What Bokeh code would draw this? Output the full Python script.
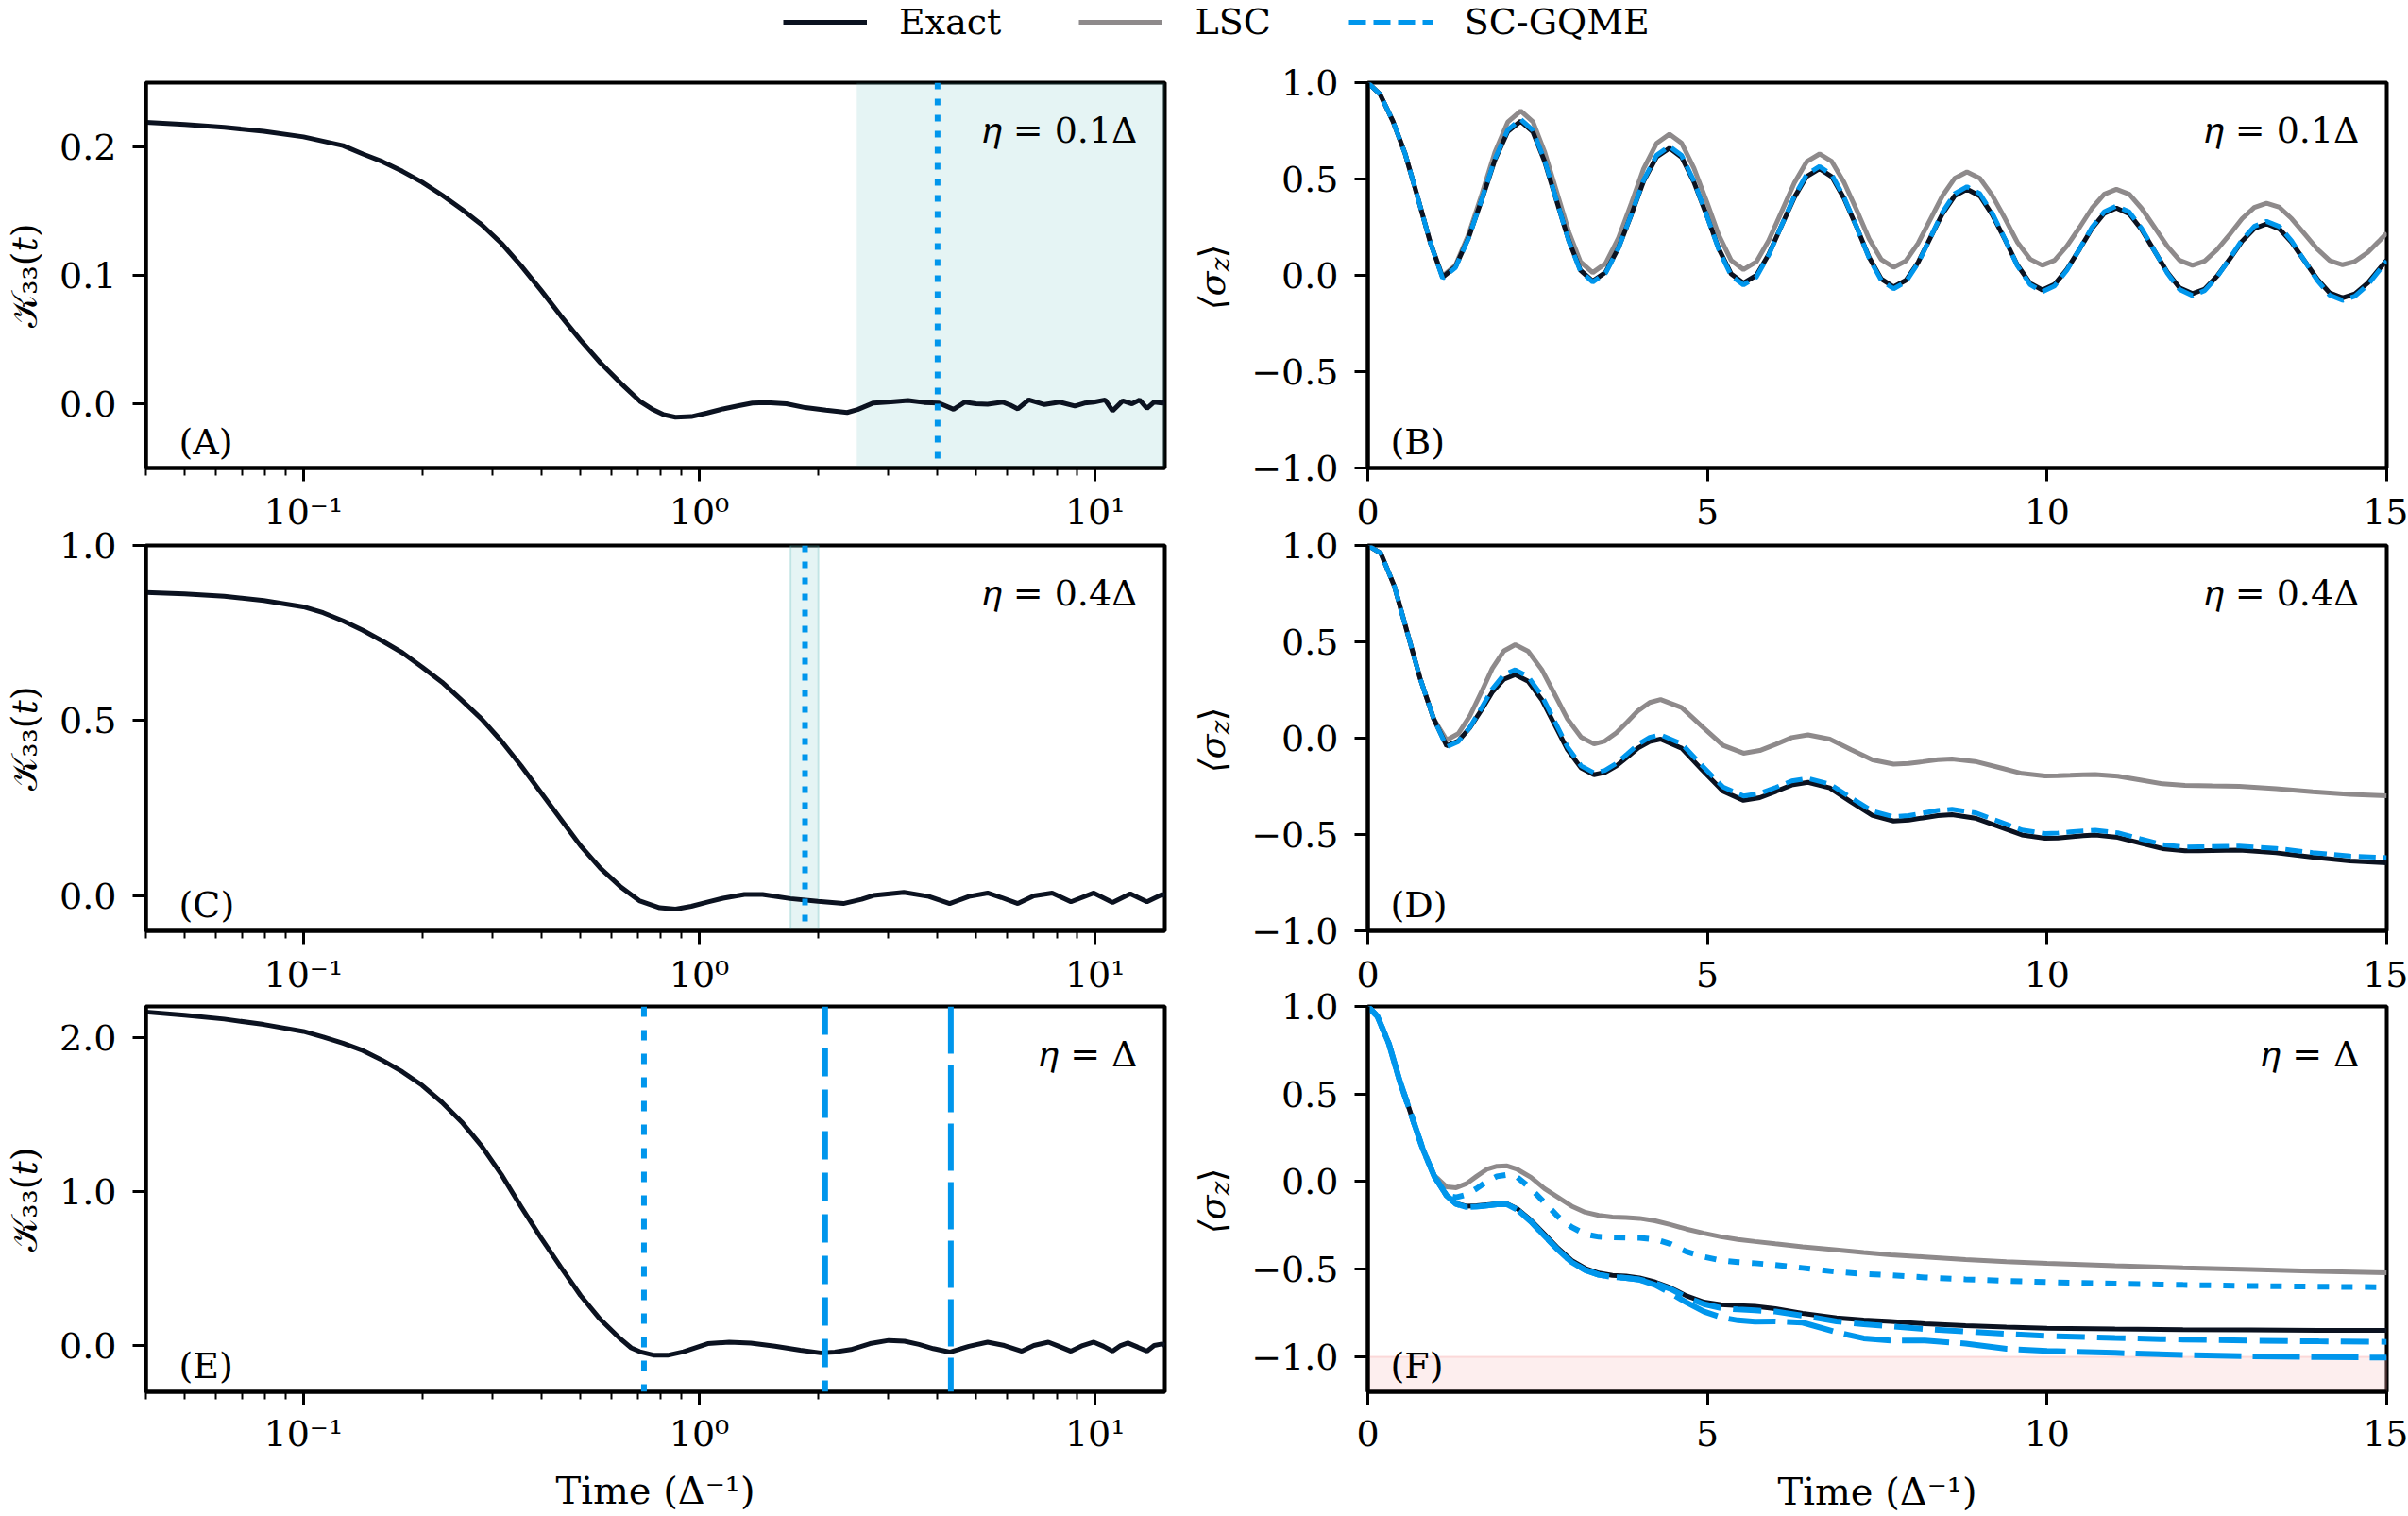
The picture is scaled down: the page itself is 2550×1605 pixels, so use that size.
from math import pi
from bokeh.plotting import figure
from bokeh.models import Range1d, FixedTicker, Span, BoxAnnotation, Label, Legend, LegendItem
from bokeh.core.properties import value
from bokeh.layouts import column, row
from bokeh.embed import file_html
from bokeh.resources import INLINE

FONT = "DejaVu Serif"
C_EXACT = "#0b1220"
C_LSC = "#8e8a8b"
C_BLUE = "#0096ec"

# ---------------- data ----------------
# Panel A: memory kernel, eta = 0.1 Delta (log time axis)
A_T = [0.04, 0.0501, 0.0631, 0.0794, 0.1, 0.1259, 0.1413, 0.1585, 0.1778, 0.1995,
       0.2239, 0.2512, 0.2818, 0.3162, 0.3548, 0.3981, 0.4467, 0.5012, 0.5623, 0.631,
       0.7079, 0.7586, 0.8128, 0.871, 0.955, 1.0471, 1.1482, 1.2589, 1.3614, 1.4791,
       1.6596, 1.8535, 2.0893, 2.3633, 2.5119, 2.7542,
       3.05, 3.37, 3.7, 4.03, 4.39, 4.69, 5.0, 5.35, 5.84, 6.1,
       6.38, 6.8, 7.45, 8.14, 8.89, 9.4, 9.93, 10.6, 11.07, 11.74,
       12.39, 12.95, 13.52, 14.1, 14.77, 15.0]
A_K = [0.2192, 0.2175, 0.2152, 0.2122, 0.2078, 0.2010, 0.1945, 0.1885, 0.181, 0.1725,
       0.1625, 0.1515, 0.1395, 0.125, 0.1075, 0.0885, 0.0685, 0.0495, 0.032, 0.0165,
       0.002, -0.004, -0.0085, -0.0105, -0.0100, -0.0072, -0.004, -0.0015, 0.0005, 0.001,
       0.0, -0.003, -0.005, -0.0068, -0.0045, 0.0006,
       0.0015, 0.0026, 0.001, 0.0006, -0.0043, 0.0013, 0.0, -0.0003, 0.0013, -0.001,
       -0.004, 0.0031, -0.0006, 0.0013, -0.0018, 0.0005, 0.0013, 0.003, -0.0055, 0.0023,
       0.0, 0.003, -0.0036, 0.0013, 0.0006, 0.001]
A_SHADE = (2.5, 15.0)
A_CUT = 4.0

# Panel C: memory kernel, eta = 0.4 Delta
C_T = [0.04, 0.0501, 0.0631, 0.0794, 0.1, 0.1122, 0.1259, 0.1413, 0.1585, 0.1778,
       0.1995, 0.2239, 0.2512, 0.2818, 0.3162, 0.3548, 0.3981, 0.4467, 0.5012, 0.5623,
       0.631, 0.7079, 0.7943, 0.871, 0.955, 1.0471, 1.1482, 1.3002, 1.4454, 1.6982,
       1.9953, 2.3121, 2.5704, 2.7542, 3.2885, 3.8019, 4.2907,
       4.8, 5.35, 5.8, 6.38, 7.0, 7.79, 8.69, 9.92, 11.07, 12.27, 13.52, 14.77, 15.0]
C_K = [0.866, 0.862, 0.855, 0.843, 0.825, 0.808, 0.785, 0.758, 0.727, 0.694,
       0.653, 0.61, 0.558, 0.505, 0.442, 0.371, 0.295, 0.219, 0.143, 0.079,
       0.027, -0.015, -0.034, -0.038, -0.03, -0.018, -0.007, 0.004, 0.004, -0.008,
       -0.016, -0.022, -0.01, 0.001, 0.010, -0.002, -0.022,
       -0.002, 0.008, -0.005, -0.022, 0.0, 0.008, -0.017, 0.008, -0.019, 0.006, -0.017, 0.004, 0.0]
C_SHADE = (1.7, 2.0)
C_CUT = 1.85

# Panel E: memory kernel, eta = Delta
E_T = [0.04, 0.0501, 0.0631, 0.0794, 0.1, 0.1122, 0.1259, 0.1413, 0.1585, 0.1778,
       0.1995, 0.2239, 0.2512, 0.2818, 0.3162, 0.3548, 0.3981, 0.4467, 0.5012, 0.5623,
       0.631, 0.673, 0.7079, 0.766, 0.8318, 0.912,
       1.05, 1.19, 1.35, 1.553, 1.8, 2.026, 2.2, 2.416, 2.7, 3.01,
       3.3, 3.59, 3.9, 4.29, 4.8, 5.35, 5.9, 6.53, 7.0, 7.62,
       8.1, 8.69, 9.3, 9.92, 10.5, 11.07, 11.6, 12.1, 12.8, 13.52,
       14.1, 14.77, 15.0]
E_K = [2.164, 2.143, 2.118, 2.083, 2.038, 2.002, 1.962, 1.914, 1.85, 1.776,
       1.688, 1.578, 1.45, 1.295, 1.11, 0.90, 0.70, 0.51, 0.325, 0.17,
       0.045, -0.015, -0.04, -0.062, -0.063, -0.04,
       0.012, 0.022, 0.016, -0.004, -0.03, -0.048, -0.042, -0.026, 0.012, 0.033,
       0.028, 0.007, -0.02, -0.043, -0.005, 0.022, 0.0, -0.037, 0.0, 0.022,
       -0.005, -0.037, 0.0, 0.022, -0.005, -0.037, 0.0, 0.016, -0.01, -0.037,
       0.0, 0.01, 0.0]
E_CUTS = [0.725, 2.08, 4.32]

# Panel B: <sigma_z>, eta = 0.1 Delta
B_T = [0, 0.18, 0.37, 0.55, 0.73, 0.92,
       1.10, 1.29, 1.48, 1.68, 1.87, 2.06,
       2.25, 2.43, 2.60, 2.78, 2.96, 3.13,
       3.31, 3.50, 3.69, 3.88, 4.06, 4.25,
       4.44, 4.62, 4.80, 4.99, 5.17, 5.35,
       5.53, 5.72, 5.90, 6.09, 6.28, 6.46,
       6.65, 6.83, 7.01, 7.20, 7.38, 7.56,
       7.74, 7.92, 8.10, 8.28, 8.46, 8.64,
       8.82, 9.01, 9.19, 9.38, 9.56, 9.75,
       9.93, 10.11, 10.29, 10.48, 10.66, 10.84,
       11.02, 11.21, 11.39, 11.58, 11.77, 11.95,
       12.14, 12.32, 12.50, 12.69, 12.87, 13.05,
       13.23, 13.42, 13.60, 13.79, 13.98, 14.16,
       14.35, 14.53, 14.72, 14.90, 15.0]
B_EXACT = [1.0, 0.94, 0.80, 0.63, 0.41, 0.17,
           -0.01, 0.044, 0.193, 0.395, 0.598, 0.746,
           0.80, 0.744, 0.593, 0.385, 0.178, 0.026,
           -0.03, 0.016, 0.143, 0.315, 0.488, 0.614,
           0.66, 0.613, 0.485, 0.31, 0.135, 0.007,
           -0.04, 0.0, 0.108, 0.257, 0.405, 0.513,
           0.553, 0.512, 0.40, 0.247, 0.093, -0.019,
           -0.06, -0.026, 0.067, 0.194, 0.320, 0.413,
           0.447, 0.412, 0.316, 0.186, 0.055, -0.041,
           -0.076, -0.047, 0.030, 0.137, 0.243, 0.321,
           0.349, 0.319, 0.238, 0.127, 0.016, -0.065,
           -0.095, -0.071, -0.005, 0.086, 0.177, 0.243,
           0.267, 0.241, 0.171, 0.075, -0.021, -0.091,
           -0.117, -0.096, -0.040, 0.037, 0.079]
B_LSC = [1.0, 0.94, 0.80, 0.63, 0.41, 0.17,
         -0.005, 0.052, 0.210, 0.424, 0.639, 0.796,
         0.853, 0.797, 0.643, 0.434, 0.224, 0.070,
         0.014, 0.062, 0.194, 0.374, 0.553, 0.685,
         0.733, 0.686, 0.557, 0.382, 0.206, 0.077,
         0.03, 0.070, 0.18, 0.33, 0.48, 0.59,
         0.63, 0.591, 0.483, 0.336, 0.189, 0.081,
         0.042, 0.075, 0.166, 0.290, 0.413, 0.504,
         0.537, 0.504, 0.416, 0.295, 0.173, 0.084,
         0.052, 0.078, 0.151, 0.250, 0.348, 0.421,
         0.447, 0.421, 0.348, 0.250, 0.151, 0.078,
         0.052, 0.074, 0.133, 0.213, 0.294, 0.352,
         0.374, 0.353, 0.294, 0.215, 0.135, 0.077,
         0.055, 0.072, 0.119, 0.183, 0.22]
B_SC = [1.0, 0.94, 0.80, 0.63, 0.41, 0.17,
        -0.015, 0.040, 0.191, 0.398, 0.604, 0.755,
        0.81, 0.753, 0.599, 0.388, 0.176, 0.022,
        -0.035, 0.012, 0.141, 0.318, 0.494, 0.623,
        0.67, 0.622, 0.49, 0.31, 0.13, -0.002,
        -0.05, -0.009, 0.104, 0.258, 0.411, 0.524,
        0.565, 0.522, 0.406, 0.248, 0.089, -0.027,
        -0.07, -0.034, 0.063, 0.195, 0.328, 0.424,
        0.46, 0.424, 0.324, 0.188, 0.051, -0.048,
        -0.085, -0.055, 0.026, 0.138, 0.249, 0.33,
        0.36, 0.329, 0.244, 0.128, 0.011, -0.074,
        -0.105, -0.079, -0.009, 0.088, 0.184, 0.254,
        0.28, 0.253, 0.178, 0.075, -0.028, -0.103,
        -0.13, -0.109, -0.05, 0.03, 0.074]

# Panel D: <sigma_z>, eta = 0.4 Delta
D_T = [0, 0.19, 0.39, 0.58, 0.77, 0.97,
       1.16, 1.33, 1.50, 1.67, 1.83, 2.00,
       2.17, 2.36, 2.56, 2.75, 2.94, 3.14,
       3.33, 3.49, 3.66, 3.82, 3.98, 4.15,
       4.31, 4.62, 4.92, 5.23,
       5.53, 5.77, 6.01, 6.24,
       6.48, 6.80, 7.11, 7.43,
       7.74, 7.96, 8.17, 8.39,
       8.60, 8.94, 9.29, 9.63,
       9.97, 10.16, 10.34, 10.53,
       10.71, 11.04, 11.37, 11.70,
       12.03, 12.23, 12.43, 12.63,
       12.83, 13.37, 13.91, 14.46, 15.0]
D_EXACT = [1.0, 0.96, 0.79, 0.55, 0.31, 0.10,
           -0.04, -0.015, 0.053, 0.145, 0.238, 0.305,
           0.33, 0.295, 0.20, 0.07, -0.06, -0.155,
           -0.19, -0.178, -0.144, -0.098, -0.051, -0.017,
           -0.005, -0.052, -0.164, -0.276,
           -0.323, -0.309, -0.276, -0.243,
           -0.229, -0.258, -0.330, -0.401,
           -0.43, -0.425, -0.414, -0.402,
           -0.397, -0.415, -0.459, -0.502,
           -0.52, -0.518, -0.512, -0.506,
           -0.503, -0.515, -0.544, -0.573,
           -0.585, -0.584, -0.583, -0.582,
           -0.581, -0.595, -0.618, -0.637, -0.647]
D_LSC = [1.0, 0.96, 0.79, 0.55, 0.31, 0.10,
         -0.01, 0.023, 0.114, 0.238, 0.361, 0.452,
         0.485, 0.451, 0.356, 0.228, 0.099, 0.005,
         -0.03, -0.015, 0.028, 0.085, 0.143, 0.185,
         0.20, 0.159, 0.061, -0.037,
         -0.078, -0.064, -0.031, 0.003,
         0.017, -0.005, -0.059, -0.113,
         -0.135, -0.131, -0.122, -0.112,
         -0.108, -0.121, -0.152, -0.183,
         -0.196, -0.195, -0.193, -0.190,
         -0.189, -0.197, -0.217, -0.237,
         -0.245, -0.246, -0.248, -0.249,
         -0.25, -0.262, -0.278, -0.292, -0.299]
D_SC = [1.0, 0.96, 0.79, 0.55, 0.31, 0.10,
        -0.045, -0.018, 0.055, 0.155, 0.255, 0.328,
        0.355, 0.319, 0.221, 0.088, -0.046, -0.144,
        -0.18, -0.167, -0.131, -0.082, -0.032, 0.004,
        0.017, -0.029, -0.142, -0.254,
        -0.30, -0.287, -0.255, -0.222,
        -0.209, -0.238, -0.309, -0.379,
        -0.408, -0.402, -0.389, -0.375,
        -0.369, -0.387, -0.432, -0.477,
        -0.495, -0.493, -0.487, -0.481,
        -0.478, -0.491, -0.522, -0.552,
        -0.565, -0.564, -0.563, -0.561,
        -0.56, -0.572, -0.594, -0.612, -0.62]

# Panel F: <sigma_z>, eta = Delta (three SC-GQME memory cut-offs)
F_T = [0, 0.14, 0.31, 0.47, 0.64, 0.81, 0.98, 1.16, 1.3, 1.45,
       1.6, 1.75, 1.9, 2.05, 2.2, 2.4, 2.6, 2.8, 3.0, 3.2,
       3.4, 3.6, 3.8, 4.0, 4.23, 4.45, 4.69, 4.95, 5.2, 5.45,
       5.7, 6.0, 6.4, 6.9, 7.3, 7.7, 8.2, 8.8, 9.4, 10.0,
       11.0, 12.0, 13.0, 14.0, 15.0]
F_EXACT = [1.0, 0.944, 0.788, 0.574, 0.38, 0.185, 0.029, -0.08, -0.125, -0.14,
           -0.138, -0.132, -0.127, -0.127, -0.155, -0.22, -0.30, -0.38, -0.45, -0.495,
           -0.522, -0.535, -0.54, -0.55, -0.573, -0.605, -0.652, -0.688, -0.702, -0.708,
           -0.712, -0.725, -0.752, -0.778, -0.79, -0.798, -0.812, -0.823, -0.831, -0.837,
           -0.842, -0.845, -0.847, -0.849, -0.85]
F_LSC = [1.0, 0.944, 0.788, 0.574, 0.38, 0.185, 0.035, -0.03, -0.035, -0.012,
         0.03, 0.07, 0.088, 0.09, 0.07, 0.025, -0.04, -0.09, -0.14, -0.175,
         -0.193, -0.202, -0.205, -0.21, -0.224, -0.245, -0.271, -0.295, -0.315, -0.33,
         -0.342, -0.355, -0.372, -0.39, -0.405, -0.418, -0.43, -0.445, -0.457, -0.467,
         -0.48, -0.492, -0.502, -0.512, -0.52]
F_SC_DOT = [1.0, 0.944, 0.788, 0.574, 0.38, 0.185, 0.029, -0.078, -0.09, -0.075,
            -0.04, 0.0, 0.03, 0.039, 0.025, -0.04, -0.12, -0.2, -0.26, -0.3,
            -0.315, -0.318, -0.32, -0.321, -0.33, -0.355, -0.40, -0.43, -0.45, -0.46,
            -0.466, -0.476, -0.493, -0.515, -0.527, -0.535, -0.547, -0.558, -0.567, -0.574,
            -0.583, -0.59, -0.596, -0.6, -0.603]
F_SC_DASH = [1.0, 0.944, 0.788, 0.574, 0.38, 0.185, 0.029, -0.08, -0.128, -0.145,
             -0.143, -0.137, -0.13, -0.13, -0.16, -0.228, -0.31, -0.39, -0.46, -0.505,
             -0.532, -0.545, -0.55, -0.56, -0.58, -0.612, -0.66, -0.70, -0.722, -0.73,
             -0.735, -0.742, -0.765, -0.798, -0.815, -0.827, -0.842, -0.856, -0.869, -0.881,
             -0.893, -0.902, -0.908, -0.912, -0.915]
F_SC_LDASH = [1.0, 0.944, 0.788, 0.574, 0.38, 0.185, 0.029, -0.08, -0.128, -0.145,
              -0.143, -0.137, -0.13, -0.13, -0.16, -0.228, -0.31, -0.39, -0.46, -0.505,
              -0.532, -0.545, -0.55, -0.56, -0.59, -0.635, -0.69, -0.742, -0.775, -0.792,
              -0.80, -0.798, -0.805, -0.86, -0.895, -0.908, -0.908, -0.925, -0.955, -0.967,
              -0.978, -0.99, -0.997, -1.002, -1.005]
F_BAND = (-1.2, -1.0)

LOG_MAJOR = [0.1, 1, 10]
LOG_MINOR = [0.04, 0.05, 0.06, 0.07, 0.08, 0.09, 0.2, 0.3, 0.4, 0.5, 0.6, 0.7, 0.8, 0.9,
             2, 3, 4, 5, 6, 7, 8, 9]
LOG_LABELS = {0.1: "10⁻¹", 1: "10⁰", 10: "10¹"}
LIN_X_TICKS = [0, 5, 10, 15]
SZ_TICKS = [-1.0, -0.5, 0.0, 0.5, 1.0]
SZ_LABELS = ["−1.0", "−0.5", "0.0", "0.5", "1.0"]
ETA_TEXT = ["𝜂 = 0.1Δ", "𝜂 = 0.4Δ", "𝜂 = Δ"]

# ---------------- layout constants ----------------
# rows overlap a little (negative top margin) so tick labels are never clipped
ROW_H = [525, 516, 570]
TOP_B = [37, 30, 30]
BOT_B = [80, 78, 132]
ROW_MARGIN = [0, -28, -28]
FRAME_W = 1079
FRAME_H = 408
LEFT_W, GAP_W, RIGHT_W = 1245, 75, 1230


def style(p, bottom_row, tick_standoff, label_standoff):
    p.grid.visible = False
    p.outline_line_color = "black"
    p.outline_line_width = 4
    p.background_fill_color = "white"
    p.border_fill_color = None
    for ax in list(p.xaxis) + list(p.yaxis):
        ax.axis_line_width = 4
        ax.axis_line_color = "black"
        ax.major_tick_in = 0
        ax.major_tick_out = 14
        ax.major_tick_line_width = 3
        ax.minor_tick_in = 0
        ax.minor_tick_out = 8
        ax.minor_tick_line_width = 2
        ax.major_label_text_font = FONT
        ax.major_label_text_font_size = "38px"
        ax.major_label_text_color = "black"
        ax.axis_label_text_font = FONT
        ax.axis_label_text_font_style = "normal"
        ax.axis_label_text_color = "black"
    p.xaxis.major_label_standoff = tick_standoff
    p.yaxis.major_label_standoff = 17
    p.yaxis.minor_tick_line_color = None
    if bottom_row:
        p.xaxis.axis_label = "Time (Δ⁻¹)"
        p.xaxis.axis_label_text_font_size = "40px"
        p.xaxis.axis_label_standoff = label_standoff


def add_texts(p, letter, eta, dx):
    p.add_layout(Label(x=dx, y=28, x_units="screen", y_units="screen", text=letter,
                       text_font=FONT, text_font_size="38px", text_color="black",
                       text_align="left", text_baseline="alphabetic"))
    p.add_layout(Label(x=FRAME_W - 29, y=FRAME_H - 50, x_units="screen", y_units="screen",
                       text=eta, text_font=FONT, text_font_size="38px", text_color="black",
                       text_align="right", text_baseline="alphabetic"))


def left_panel(r, t, k, ylim, yticks, ylabels, letter):
    bottom = r == 2
    p = figure(width=LEFT_W, height=ROW_H[r], x_axis_type="log",
               x_range=Range1d(0.04, 15), y_range=Range1d(*ylim),
               output_backend="svg", toolbar_location=None,
               min_border_left=154, min_border_right=LEFT_W - 154 - FRAME_W,
               min_border_top=TOP_B[r], min_border_bottom=BOT_B[r])
    style(p, bottom, 8 if bottom else 10, 12)
    p.xaxis.ticker = FixedTicker(ticks=LOG_MAJOR, minor_ticks=LOG_MINOR)
    p.xaxis.major_label_overrides = LOG_LABELS
    p.yaxis.ticker = FixedTicker(ticks=yticks)
    p.yaxis.major_label_overrides = dict(zip(yticks, ylabels))
    p.yaxis.axis_label = "𝒦₃₃(𝑡)"
    p.yaxis.axis_label_text_font_size = "38px"
    p.yaxis.axis_label_standoff = 12
    p.line(t, k, line_color=C_EXACT, line_width=5)
    add_texts(p, letter, ETA_TEXT[r], 35)
    return p


def ylabel_strip(r):
    # narrow strip between the columns holding the rotated <sigma_z> label
    s = figure(width=GAP_W, height=ROW_H[r], x_range=Range1d(0, GAP_W),
               y_range=Range1d(0, FRAME_H), x_axis_location=None, y_axis_location=None,
               output_backend="svg", toolbar_location=None,
               min_border_left=0, min_border_right=0,
               min_border_top=TOP_B[r], min_border_bottom=BOT_B[r])
    s.grid.visible = False
    s.outline_line_color = None
    s.border_fill_color = None
    s.background_fill_color = None
    xc = 38
    a = FRAME_H / 2 + 4
    s.text(x=[xc], y=[a], text=["⟨σ"], angle=pi / 2, text_align="right",
           text_baseline="middle", text_font=value(FONT), text_font_size="38px",
           text_font_style="italic", text_color="black")
    s.text(x=[xc + 9], y=[a], text=["z"], angle=pi / 2, text_align="left",
           text_baseline="middle", text_font=value(FONT), text_font_size="28px",
           text_font_style="italic", text_color="black")
    s.text(x=[xc], y=[a + 14], text=["⟩"], angle=pi / 2, text_align="left",
           text_baseline="middle", text_font=value(FONT), text_font_size="38px",
           text_color="black")
    return s


def right_panel(r, ylim, letter):
    bottom = r == 2
    p = figure(width=RIGHT_W, height=ROW_H[r],
               x_range=Range1d(0, 15), y_range=Range1d(*ylim),
               output_backend="svg", toolbar_location=None,
               min_border_left=RIGHT_W - FRAME_W - 23, min_border_right=23,
               min_border_top=TOP_B[r], min_border_bottom=BOT_B[r])
    style(p, bottom, 16 if bottom else 18, 22)
    p.xaxis.ticker = FixedTicker(ticks=LIN_X_TICKS)
    p.xaxis.minor_tick_line_color = None
    p.yaxis.ticker = FixedTicker(ticks=SZ_TICKS)
    p.yaxis.major_label_overrides = dict(zip(SZ_TICKS, SZ_LABELS))
    add_texts(p, letter, ETA_TEXT[r], 24)
    return p


TEAL_FILL = "#5fb8b8"

# ----- A -----
pA = left_panel(0, A_T, A_K, (-0.05, 0.25), [0.0, 0.1, 0.2], ["0.0", "0.1", "0.2"], "(A)")
pA.add_layout(BoxAnnotation(left=A_SHADE[0], right=A_SHADE[1], fill_color=TEAL_FILL,
                            fill_alpha=0.16, line_color=None, level="underlay"))
pA.add_layout(Span(location=A_CUT, dimension="height", line_color=C_BLUE, line_width=6,
                   line_dash="7 10"))

# ----- C -----
pC = left_panel(1, C_T, C_K, (-0.1, 1.0), [0.0, 0.5, 1.0], ["0.0", "0.5", "1.0"], "(C)")
pC.add_layout(BoxAnnotation(left=C_SHADE[0], right=C_SHADE[1], fill_color=TEAL_FILL,
                            fill_alpha=0.16, line_color=TEAL_FILL, line_alpha=0.3,
                            line_width=2, level="underlay"))
pC.add_layout(Span(location=C_CUT, dimension="height", line_color=C_BLUE, line_width=6,
                   line_dash="7 10"))

# ----- E -----
pE = left_panel(2, E_T, E_K, (-0.3, 2.2), [0.0, 1.0, 2.0], ["0.0", "1.0", "2.0"], "(E)")
for loc, dash in zip(E_CUTS, ["11 14", "30 14", "50 12"]):
    pE.add_layout(Span(location=loc, dimension="height", line_color=C_BLUE, line_width=6,
                       line_dash=dash))

# ----- B -----
pB = right_panel(0, (-1.0, 1.0), "(B)")
pB.line(B_T, B_LSC, line_color=C_LSC, line_width=5)
pB.line(B_T, B_EXACT, line_color=C_EXACT, line_width=5)
pB.line(B_T, B_SC, line_color=C_BLUE, line_width=5, line_dash="18 8")

# ----- D -----
pD = right_panel(1, (-1.0, 1.0), "(D)")
pD.line(D_T, D_LSC, line_color=C_LSC, line_width=5)
pD.line(D_T, D_EXACT, line_color=C_EXACT, line_width=5)
pD.line(D_T, D_SC, line_color=C_BLUE, line_width=5, line_dash="18 8")

# ----- F -----
pF = right_panel(2, (-1.2, 1.0), "(F)")
pF.add_layout(BoxAnnotation(bottom=F_BAND[0], top=F_BAND[1], fill_color="#f6a3a3",
                            fill_alpha=0.18, line_color="#f6a3a3", line_alpha=0.35,
                            line_width=2, level="underlay"))
pF.line(F_T, F_LSC, line_color=C_LSC, line_width=5)
pF.line(F_T, F_EXACT, line_color=C_EXACT, line_width=5)
pF.line(F_T, F_SC_DOT, line_color=C_BLUE, line_width=6, line_dash="12 13")
pF.line(F_T, F_SC_DASH, line_color=C_BLUE, line_width=6, line_dash="30 13")
pF.line(F_T, F_SC_LDASH, line_color=C_BLUE, line_width=6, line_dash="50 12")

# ----- legend strip -----
leg = figure(width=2550, height=50, x_range=Range1d(0, 1), y_range=Range1d(0, 1),
             x_axis_location=None, y_axis_location=None, output_backend="svg",
             toolbar_location=None, min_border=0)
leg.grid.visible = False
leg.outline_line_color = None
leg.border_fill_color = None
leg.background_fill_color = None
r1 = leg.line([0, 1], [5, 5], line_color=C_EXACT, line_width=5)
r2 = leg.line([0, 1], [5, 5], line_color=C_LSC, line_width=5)
r3 = leg.line([0, 1], [5, 5], line_color=C_BLUE, line_width=5, line_dash="18 8")
legend = Legend(items=[LegendItem(label="Exact", renderers=[r1]),
                       LegendItem(label="LSC", renderers=[r2]),
                       LegendItem(label="SC-GQME", renderers=[r3])],
                orientation="horizontal", location=(829, 5),
                glyph_width=89, glyph_height=20, label_standoff=34, spacing=82,
                padding=0, margin=0, border_line_color=None, background_fill_alpha=0,
                label_text_font=FONT, label_text_font_size="38px", label_text_color="black")
leg.add_layout(legend)

rows = [row(pA, ylabel_strip(0), pB, margin=(ROW_MARGIN[0], 0, 0, 0)),
        row(pC, ylabel_strip(1), pD, margin=(ROW_MARGIN[1], 0, 0, 0)),
        row(pE, ylabel_strip(2), pF, margin=(ROW_MARGIN[2], 0, 0, 0))]
layout = column(leg, *rows)

open("out.html", "w").write(file_html(layout, INLINE))
